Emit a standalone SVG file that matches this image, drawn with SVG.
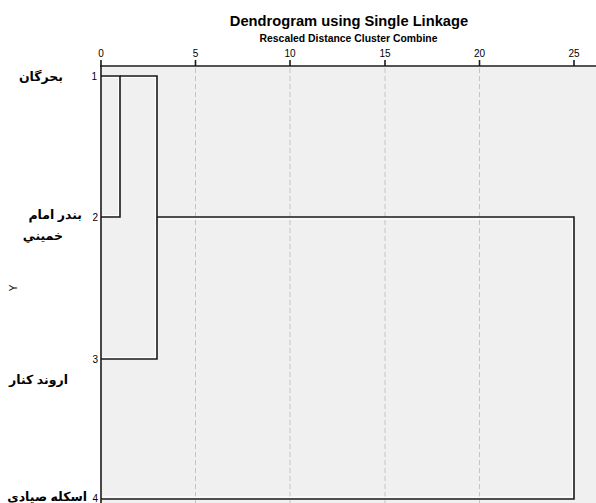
<svg xmlns="http://www.w3.org/2000/svg" width="596" height="503" viewBox="0 0 596 503">
<style>
.t{font-family:"Liberation Sans",Arial,sans-serif;fill:#000}
.lab{font-family:"Liberation Sans","DejaVu Sans",sans-serif;font-weight:bold;font-size:12.5px;fill:#000;text-anchor:end}
.num{font-family:"Liberation Sans",Arial,sans-serif;font-size:10px;fill:#000;text-anchor:end}
.tick{font-family:"Liberation Sans",Arial,sans-serif;font-size:10px;fill:#000;text-anchor:middle}
.grid{stroke:#c4c4c4;stroke-width:1;stroke-dasharray:5,3}
.ln{stroke:#1a1a1a;stroke-width:1.6;fill:none}
.hl{stroke:#ffffff;stroke-width:1.2;fill:none}
</style>
<rect width="596" height="503" fill="#ffffff"/>
<rect x="102" y="67" width="494" height="436" fill="#f0f0f0"/>
<text class="t" x="349" y="26" font-size="14.7" font-weight="bold" text-anchor="middle">Dendrogram using Single Linkage</text>
<text class="t" x="348.5" y="42" font-size="10.4" font-weight="bold" text-anchor="middle">Rescaled Distance Cluster Combine</text>
<g id="axis">
<text class="tick" x="101" y="57">0</text>
<text class="tick" x="195.5" y="57">5</text>
<text class="tick" x="290" y="57">10</text>
<text class="tick" x="385" y="57">15</text>
<text class="tick" x="479.5" y="57">20</text>
<text class="tick" x="574" y="57">25</text>
<g stroke="#1a1a1a" stroke-width="1.6">
<line x1="101" y1="60" x2="101" y2="66"/>
<line x1="195.5" y1="60" x2="195.5" y2="66"/>
<line x1="290" y1="60" x2="290" y2="66"/>
<line x1="385" y1="60" x2="385" y2="66"/>
<line x1="479.5" y1="60" x2="479.5" y2="66"/>
<line x1="574" y1="60" x2="574" y2="66"/>
<line x1="100" y1="66" x2="596" y2="66"/>
<line x1="101" y1="66" x2="101" y2="503"/>
</g>
<line class="grid" x1="195.5" y1="68" x2="195.5" y2="503"/>
<line class="grid" x1="290" y1="68" x2="290" y2="503"/>
<line class="grid" x1="385" y1="68" x2="385" y2="503"/>
<line class="grid" x1="479.5" y1="68" x2="479.5" y2="503"/>
</g>
<g id="connectors">
<path class="hl" d="M102,77.5 H118.5 V215.5 H102 M121.5,77.5 H155.5 V357.5 H102 M158.5,219 H572.5 V497 H102"/>
<path class="ln" d="M101,76 H120 V217 H101"/>
<path class="ln" d="M120,76 H157 V359 H101"/>
<path class="ln" d="M157,217 H574 V499 H101"/>
</g>
<g id="leaf1"><text class="num" x="97" y="80">1</text><text class="lab" x="63" y="81">بحرگان</text></g>
<g id="leaf2"><text class="num" x="98" y="221">2</text><text class="lab" x="82" y="219">بندر امام</text><text class="lab" x="63" y="240">خميني</text></g>
<g id="leaf3"><text class="num" x="98" y="363">3</text><text class="lab" x="68" y="384">اروند كنار</text></g>
<g id="leaf4"><text class="num" x="98" y="502" font-size="9">4</text><text class="lab" x="87" y="501">اسكله صيادي</text></g>
<text class="t" font-size="10" text-anchor="middle" transform="translate(17,288) rotate(-90)">Y</text>
</svg>
